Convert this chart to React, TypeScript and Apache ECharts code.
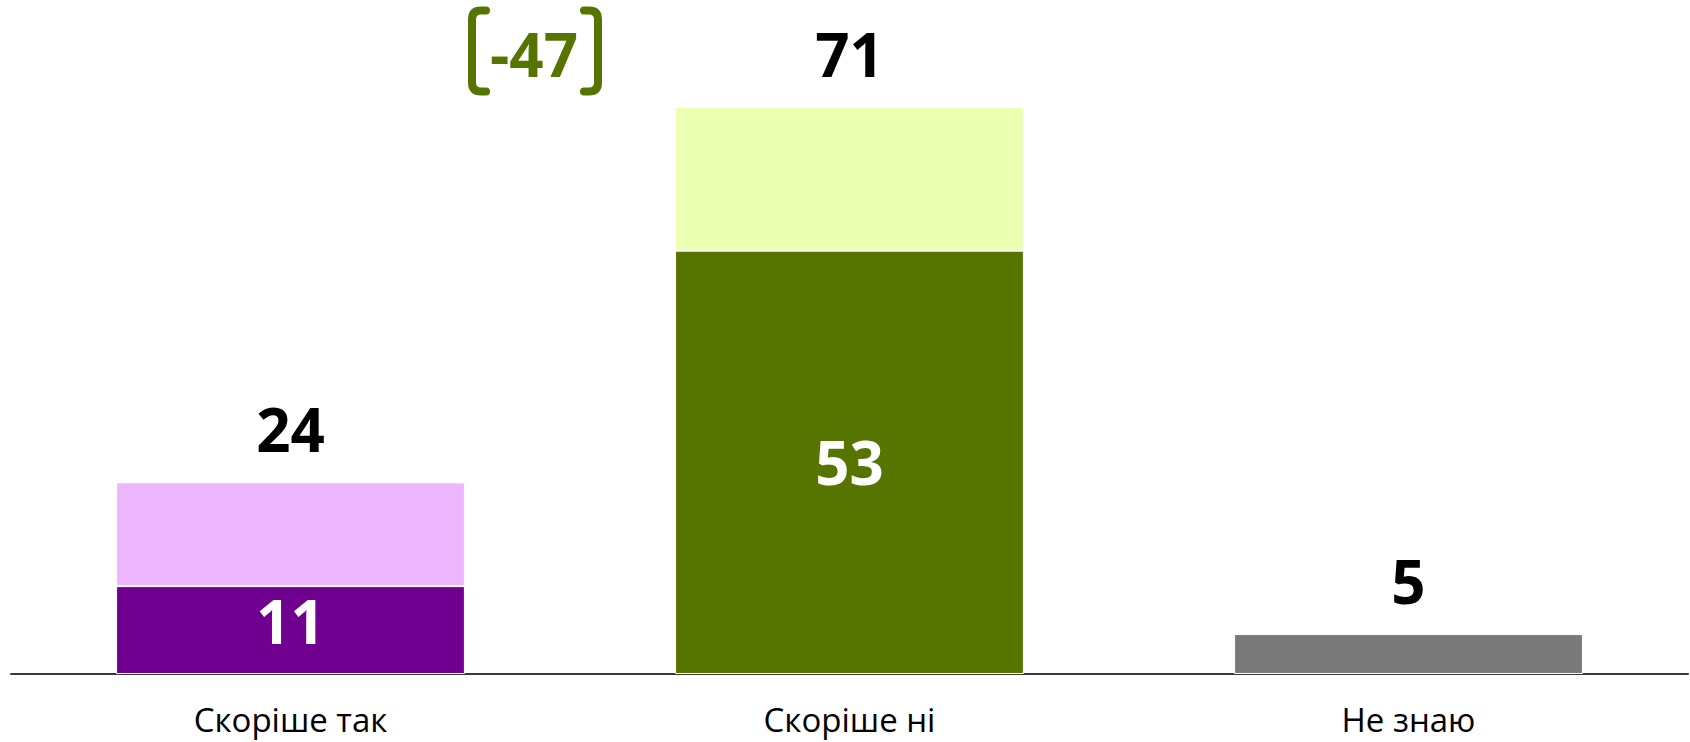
import React, { useEffect, useRef } from "react";
import * as echarts from "echarts";

const categories = ["Скоріше так", "Скоріше ні", "Не знаю"];
const strongValues = [11, 53, 5];
const weakValues = [13, 18, 0];
const totals = [24, 71, 5];

const strongColors = ["#700090", "#567500", "#797979"];
const weakColors = ["#EEB6FF", "#EAFFB1", "#797979"];
const diffColor = "#567500";

const FONT = "'Open Sans', 'Noto Sans', sans-serif";

echarts.graphic.registerShape(
  "bracketL",
  echarts.graphic.extendPath("M 14 0 L 9 0 Q 0 0 0 9 L 0 72 Q 0 81 9 81 L 14 81", {})
);
echarts.graphic.registerShape(
  "bracketR",
  echarts.graphic.extendPath("M 0 0 L 5 0 Q 14 0 14 9 L 14 72 Q 14 81 5 81 L 0 81", {})
);

export default function App() {
  const ref = useRef<HTMLDivElement>(null);
  useEffect(() => {
    if (!ref.current) return;
    const chart = echarts.init(ref.current, null, { renderer: "svg" });
    const diff = totals[0] - totals[1];
    chart.setOption({
      animation: false,
      backgroundColor: "#ffffff",
      grid: { left: 11, right: 2, top: 35, bottom: 68 },
      xAxis: {
        type: "category",
        data: categories,
        axisLine: { show: true, lineStyle: { color: "#3a3a3a", width: 2 } },
        axisTick: { show: false },
        axisLabel: { fontSize: 33, fontFamily: FONT, color: "#000", margin: 29 },
      },
      yAxis: {
        type: "value",
        min: 0,
        max: 80,
        show: false,
        splitLine: { show: false },
      },
      series: [
        {
          type: "bar",
          stack: "s",
          barCategoryGap: "37.6%",
          data: strongValues.map((v, i) => ({
            value: v,
            itemStyle: { color: strongColors[i] },
            label: i === 2 ? { show: false } : i === 0 ? { offset: [0, -9] } : {},
          })),
          itemStyle: { borderColor: "#fff", borderWidth: 1 },
          label: {
            show: true,
            position: "inside",
            color: "#fff",
            fontSize: 60,
            fontWeight: "bold",
            fontFamily: FONT,
          },
        },
        {
          type: "bar",
          stack: "s",
          data: weakValues.map((v, i) => ({
            value: v === 0 ? "-" : v,
            itemStyle: { color: weakColors[i] },
          })),
          itemStyle: { borderColor: "#fff", borderWidth: 1 },
        },
        {
          type: "bar",
          barGap: "-100%",
          data: totals,
          itemStyle: { color: "rgba(0,0,0,0)" },
          silent: true,
          z: 5,
          label: {
            show: true,
            position: "top",
            distance: 23,
            color: "#000000",
            fontSize: 60,
            fontWeight: "bold",
            fontFamily: FONT,
          },
        },
      ],
      graphic: [
        {
          type: "text",
          x: 534,
          y: 54,
          style: {
            text: String(diff),
            fill: diffColor,
            fontSize: 60,
            fontWeight: "bold",
            fontFamily: FONT,
            textAlign: "center",
            textVerticalAlign: "middle",
          },
        },
        {
          type: "bracketL",
          x: 472,
          y: 10.5,
          style: { stroke: diffColor, lineWidth: 8, fill: null, lineCap: "round" },
        },
        {
          type: "bracketR",
          x: 584,
          y: 10.5,
          style: { stroke: diffColor, lineWidth: 8, fill: null, lineCap: "round" },
        },
      ],
    });
    return () => chart.dispose();
  }, []);
  return (
    <div
      ref={ref}
      style={{ position: "fixed", left: 0, top: 0, width: 1690, height: 742 }}
    />
  );
}
